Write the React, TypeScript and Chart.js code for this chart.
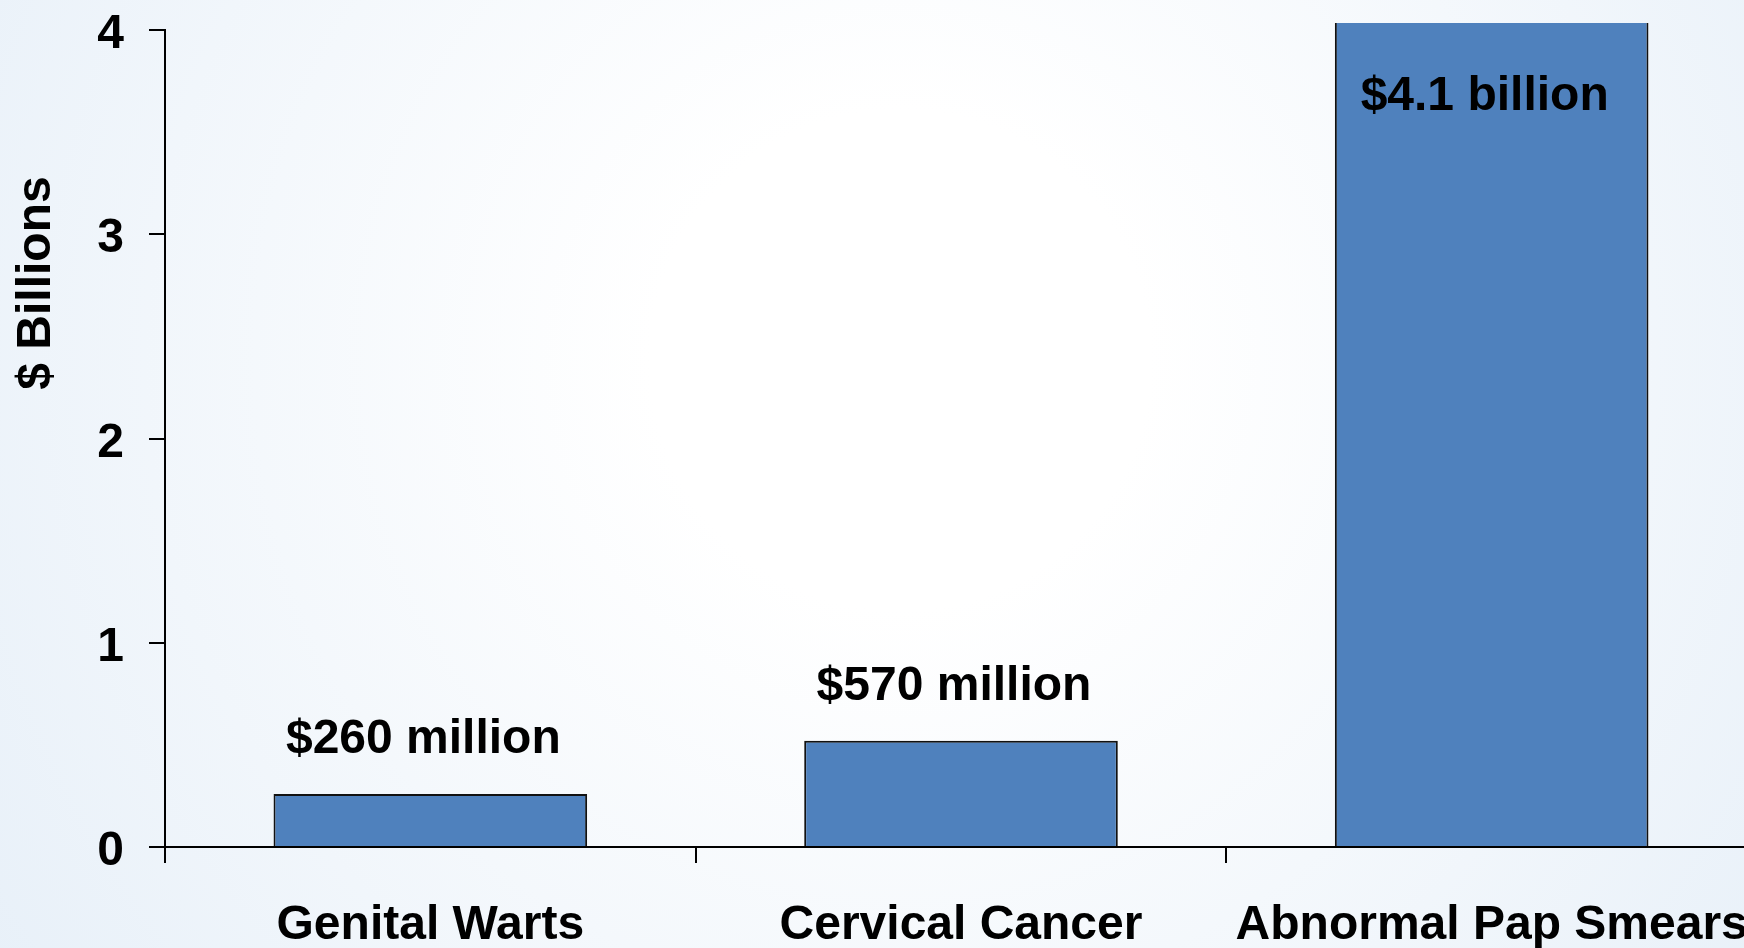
import React, { useEffect, useRef } from "react";
import { Chart, registerables } from "chart.js";

Chart.register(...registerables);

const categories = ["Genital Warts", "Cervical Cancer", "Abnormal Pap Smears"];
const costBillions = [0.26, 0.52, 4.1];
const valueLabels = ["$260 million", "$570 million", "$4.1 billion"];
const labelInside = [false, false, true];
const yTicks = [0, 1, 2, 3, 4];
const yTitle = "$ Billions";

const FONT = '"Liberation Sans", Arial, Helvetica, sans-serif';

const bgPlugin = {
  id: "bgGradient",
  beforeDraw(chart: any) {
    const { ctx, width, height } = chart;
    ctx.save();
    const g = ctx.createRadialGradient(900, 360, 250, 900, 360, 1150);
    g.addColorStop(0, "#ffffff");
    g.addColorStop(1, "#e6eff8");
    ctx.fillStyle = g;
    ctx.fillRect(0, 0, width, height);
    ctx.restore();
  },
};

const labelPlugin = {
  id: "valueLabels",
  afterDatasetsDraw(chart: any) {
    const { ctx, chartArea } = chart;
    const meta = chart.getDatasetMeta(0);
    ctx.save();
    ctx.font = `bold 48px ${FONT}`;
    ctx.fillStyle = "#000";
    ctx.textAlign = "center";
    ctx.textBaseline = "alphabetic";
    meta.data.forEach((bar: any, i: number) => {
      const y = labelInside[i] ? chartArea.top + 80 : bar.y - 41;
      ctx.fillText(valueLabels[i], bar.x - 7, y);
    });
    // y-axis title
    ctx.translate(37, 283);
    ctx.rotate(-Math.PI / 2);
    ctx.textBaseline = "middle";
    ctx.fillText(yTitle, 0, 0);
    ctx.restore();
  },
};

export default function App() {
  const ref = useRef<HTMLCanvasElement>(null);
  useEffect(() => {
    if (!ref.current) return;
    const chart = new Chart(ref.current, {
      type: "bar",
      data: {
        labels: categories,
        datasets: [
          {
            data: costBillions,
            backgroundColor: "#4f81bd",
            borderColor: "#111111",
            borderWidth: 2,
            categoryPercentage: 1,
            barPercentage: 0.591,
            clip: { left: false, top: 7, right: false, bottom: false } as any,
          },
        ],
      },
      options: {
        responsive: false,
        animation: false,
        devicePixelRatio: 1,
        layout: { padding: { top: 30, right: 43, bottom: 0, left: 0 } },
        plugins: {
          legend: { display: false },
          tooltip: { enabled: false },
        },
        scales: {
          x: {
            afterFit: (s: any) => {
              s.height = 101;
            },
            grid: {
              offset: true,
              drawOnChartArea: false,
              drawTicks: true,
              tickLength: 16,
              color: "#000",
              lineWidth: 2,
            },
            border: { display: true, color: "#000", width: 2 },
            ticks: {
              color: "#000",
              padding: 34,
              maxRotation: 0,
              autoSkip: false,
              font: { family: FONT, size: 48, weight: "bold" },
            },
          },
          y: {
            min: 0,
            max: 4,
            afterFit: (s: any) => {
              s.width = 165;
              s.paddingTop = 0;
              s.paddingBottom = 0;
            },
            afterBuildTicks: (s: any) => {
              s.ticks = yTicks.map((v) => ({ value: v }));
            },
            grid: {
              drawOnChartArea: false,
              drawTicks: true,
              tickLength: 16,
              color: "#000",
              lineWidth: 2,
            },
            border: { display: true, color: "#000", width: 2 },
            ticks: {
              color: "#000",
              padding: 25,
              labelOffset: 5,
              font: { family: FONT, size: 48, weight: "bold" },
            },
          },
        },
      },
      plugins: [bgPlugin, labelPlugin],
    });
    return () => chart.destroy();
  }, []);

  return (
    <div
      style={{
        position: "fixed",
        left: 0,
        top: 0,
        width: 1744,
        height: 948,
        overflow: "hidden",
      }}
    >
      <canvas
        ref={ref}
        width={1800}
        height={948}
        style={{ display: "block", width: 1800, height: 948 }}
      />
    </div>
  );
}
